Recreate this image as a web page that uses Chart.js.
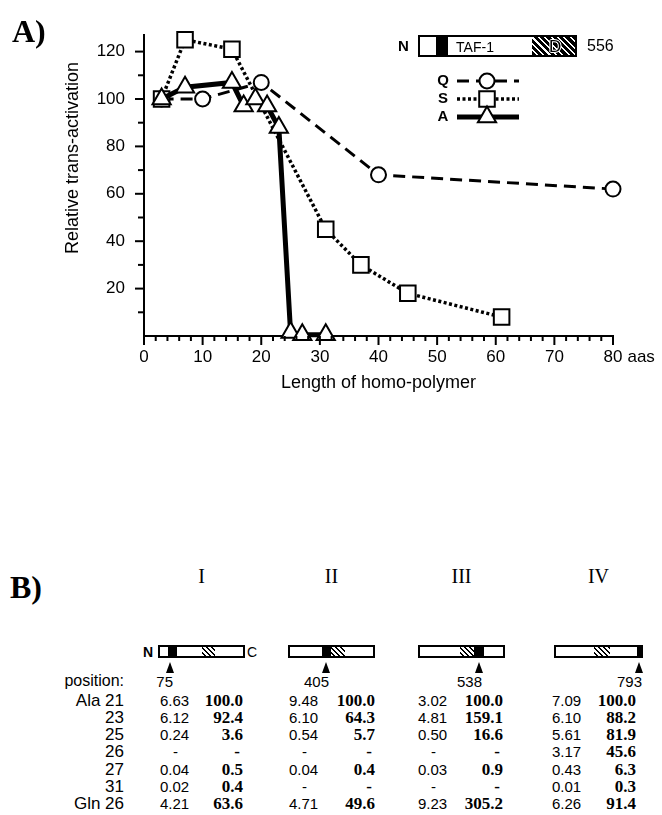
<!DOCTYPE html>
<html>
<head>
<meta charset="utf-8">
<script src="https://cdn.jsdelivr.net/npm/chart.js@4.4.1/dist/chart.umd.min.js"></script>
<style>
  body { margin: 0; background: #fff; }
  #page { position: relative; width: 662px; height: 815px; overflow: hidden; font-family: 'Liberation Sans', Arial, sans-serif; color: #000; }
  #chartA { position: absolute; left: 0; top: 0; }
  .t { position: absolute; white-space: nowrap; line-height: 1; }
  .serif { font-family: 'Liberation Serif', 'Times New Roman', serif; }
  .box { position: absolute; border: 2px solid #000; background: #fff; box-sizing: border-box; overflow: hidden; }
  .seg { position: absolute; top: 0; bottom: 0; }
  .hatchW { background: repeating-linear-gradient(45deg, #fff 0 2px, #000 2px 3.5px); }
  .hatchB { background: repeating-linear-gradient(45deg, #000 0 3px, #fff 3px 4.5px); }
  .blk { background: #000; }
  .arrow { position: absolute; width: 0; height: 0; border-left: 4px solid transparent; border-right: 4px solid transparent; border-bottom: 11px solid #000; }
</style>
</head>
<body>
<div id="page">
  <canvas id="chartA" width="662" height="400"></canvas>
</div>
<script>
// panel A: relative trans-activation vs homo-polymer length
const xTicks = [0, 10, 20, 30, 40, 50, 60, 70, 80];
const yTicks = [20, 40, 60, 80, 100, 120];

const glnLength = [3, 10, 20, 40, 80];
const glnValue = [100, 100, 107, 68, 62];
const serLength = [3, 7, 15, 31, 37, 45, 61];
const serValue = [100, 125, 121, 45, 30, 18, 8];
const alaLength = [3, 7, 15, 17, 19, 21, 23, 25, 27, 31];
const alaValue = [100, 105, 107, 97, 100, 97, 88, 1.5, 0.5, 0.5];

// panel B: table
const constructNames = ['I', 'II', 'III', 'IV'];
const insertPositions = [75, 405, 538, 793];
const rowLabels = ['Ala 21', '23', '25', '26', '27', '31', 'Gln 26'];
const foldI = [6.63, 6.12, 0.24, null, 0.04, 0.02, 4.21];
const pctI = [100.0, 92.4, 3.6, null, 0.5, 0.4, 63.6];
const foldII = [9.48, 6.10, 0.54, null, 0.04, null, 4.71];
const pctII = [100.0, 64.3, 5.7, null, 0.4, null, 49.6];
const foldIII = [3.02, 4.81, 0.50, null, 0.03, null, 9.23];
const pctIII = [100.0, 159.1, 16.6, null, 0.9, null, 305.2];
const foldIV = [7.09, 6.10, 5.61, 3.17, 0.43, 0.01, 6.26];
const pctIV = [100.0, 88.2, 81.9, 45.6, 6.3, 0.3, 91.4];

const SANS = "'Liberation Sans', Arial, sans-serif";

function pts(xs, ys) {
    return xs.map((x, i) => ({ x: x, y: ys[i] }));
}

const datasets = [
    {
        label: 'Q', data: pts(glnLength, glnValue), order: 2,
        borderColor: '#000', borderWidth: 3, borderDash: [12, 7],
        pointStyle: 'circle', pointRadius: 7.5
    },
    {
        label: 'S', data: pts(serLength, serValue), order: 1,
        borderColor: '#000', borderWidth: 3.5, borderDash: [3, 2.5],
        pointStyle: 'rect', pointRadius: 11
    },
    {
        label: 'A', data: pts(alaLength, alaValue), order: 0,
        borderColor: '#000', borderWidth: 5, borderDash: [],
        pointStyle: 'triangle', pointRadius: 10.5
    }
];
datasets.forEach(d => {
    d.pointBackgroundColor = '#fff';
    d.pointBorderColor = '#000';
    d.pointBorderWidth = 2;
    d.clip = false;
    d.tension = 0;
    d.fill = false;
});

// tick marks, y title, "aas", and the Q/S/A key
const extras = {
    id: 'extras',
    afterDraw(chart) {
        const { ctx, scales: { x, y } } = chart;
        ctx.save();
        ctx.strokeStyle = '#000';
        ctx.lineWidth = 2;
        ctx.setLineDash([]);
        for (let v = 0; v <= 80; v += 2) {
            const px = x.getPixelForValue(v);
            const len = v % 10 === 0 ? 9 : 5;
            ctx.beginPath();
            ctx.moveTo(px, y.bottom);
            ctx.lineTo(px, y.bottom + len);
            ctx.stroke();
        }
        for (let v = 10; v <= 120; v += 10) {
            const py = y.getPixelForValue(v);
            const len = v % 20 === 0 ? 9 : 6;
            ctx.beginPath();
            ctx.moveTo(x.left - len, py);
            ctx.lineTo(x.left, py);
            ctx.stroke();
        }

        ctx.fillStyle = '#000';
        ctx.font = '17px ' + SANS;
        ctx.textBaseline = 'middle';
        const w80 = ctx.measureText('80').width;
        ctx.textAlign = 'left';
        ctx.fillText('aas', x.getPixelForValue(80) + w80 / 2 + 5, 357);

        ctx.save();
        ctx.translate(73, 158);
        ctx.rotate(-Math.PI / 2);
        ctx.textAlign = 'center';
        ctx.font = '18px ' + SANS;
        ctx.fillText('Relative trans-activation', 0, 0);
        ctx.restore();

        // key
        const rows = [81, 99, 117];
        chart.data.datasets.forEach((d, i) => {
            const yy = rows[i];
            ctx.font = 'bold 15px ' + SANS;
            ctx.textAlign = 'center';
            ctx.fillText(d.label, 443, yy);
            ctx.lineWidth = d.borderWidth;
            ctx.setLineDash(d.borderDash);
            ctx.beginPath();
            ctx.moveTo(457, yy);
            ctx.lineTo(519, yy);
            ctx.stroke();
            ctx.setLineDash([]);
            ctx.lineWidth = 2;
            ctx.fillStyle = '#fff';
            Chart.helpers.drawPoint(ctx, { pointStyle: d.pointStyle, radius: d.pointRadius, borderWidth: 2, rotation: 0 }, 487, yy);
            ctx.fillStyle = '#000';
        });
        ctx.restore();
    }
};

new Chart(document.getElementById('chartA').getContext('2d'), {
    type: 'line',
    data: { datasets: datasets },
    options: {
        responsive: false,
        animation: false,
        layout: { padding: { left: 0, right: 49, top: 35, bottom: 0 } },
        plugins: { legend: { display: false }, tooltip: { enabled: false } },
        scales: {
            x: {
                type: 'linear', min: 0, max: 80,
                afterFit: s => { s.height = 64; },
                afterBuildTicks: s => { s.ticks = xTicks.map(v => ({ value: v })); },
                grid: { display: false, drawTicks: false, tickLength: 0 },
                border: { display: true, color: '#000', width: 2 },
                ticks: { color: '#000', font: { family: SANS, size: 17 }, padding: 11, maxRotation: 0, autoSkip: false },
                title: { display: true, text: 'Length of homo-polymer', color: '#000', font: { family: SANS, size: 18 }, padding: { top: 0, bottom: 6 } }
            },
            y: {
                type: 'linear', min: 0, max: 127,
                afterFit: s => { s.width = 144; },
                afterBuildTicks: s => { s.ticks = yTicks.map(v => ({ value: v })); },
                grid: { display: false, drawTicks: false, tickLength: 0 },
                border: { display: true, color: '#000', width: 2 },
                ticks: { color: '#000', font: { family: SANS, size: 17 }, padding: 19 }
            }
        }
    },
    plugins: [extras]
});

// ---------- HTML parts ----------
const page = document.getElementById('page');
function txt(s, css) {
    const d = document.createElement('div');
    d.className = 't' + (css.cls ? ' ' + css.cls : '');
    d.textContent = s;
    delete css.cls;
    Object.assign(d.style, css);
    page.appendChild(d);
    return d;
}
function box(left, top, w, h, segs) {
    const b = document.createElement('div');
    b.className = 'box';
    Object.assign(b.style, { left: left + 'px', top: top + 'px', width: w + 'px', height: h + 'px' });
    segs.forEach(s => {
        const e = document.createElement('div');
        e.className = 'seg ' + s.cls;
        e.style.left = (s.from * 100) + '%';
        e.style.width = ((s.to - s.from) * 100) + '%';
        b.appendChild(e);
    });
    page.appendChild(b);
    return b;
}

txt('A)', { cls: 'serif', left: '12px', top: '15px', fontSize: '32px', fontWeight: 'bold' });
txt('B)', { cls: 'serif', left: '10px', top: '571px', fontSize: '32px', fontWeight: 'bold' });

// TAF-1 schematic
txt('N', { left: '398px', top: '38px', fontSize: '15px', fontWeight: 'bold' });
const taf = box(418, 35, 159, 22, [
    { cls: 'blk', from: 0.105, to: 0.18 },
    { cls: 'hatchB', from: 0.72, to: 1.0 }
]);
const tafText = document.createElement('div');
tafText.className = 't';
Object.assign(tafText.style, { left: '35px', width: '40px', top: '3px', fontSize: '14px', textAlign: 'center' });
tafText.textContent = 'TAF-1';
taf.appendChild(tafText);
const dText = document.createElement('div');
dText.className = 't';
Object.assign(dText.style, { left: '129px', top: '1px', fontSize: '17px', color: '#000', textShadow: '1px 0 #fff, -1px 0 #fff, 0 1px #fff, 0 -1px #fff' });
dText.textContent = 'D';
taf.appendChild(dText);
txt('556', { left: '587px', top: '38px', fontSize: '16px' });

// panel B layout
const panels = [
    { bar: 158, w: 87, arrow: 170, raw: 160, pct: 243, black: [0.1, 0.21], hatch: [0.5, 0.66] },
    { bar: 288, w: 87, arrow: 326, raw: 289, pct: 375, black: [0.38, 0.49], hatch: [0.49, 0.66] },
    { bar: 418, w: 87, arrow: 479, raw: 418, pct: 503, black: [0.65, 0.77], hatch: [0.48, 0.65] },
    { bar: 554, w: 89, arrow: 639, raw: 552, pct: 636, black: [0.95, 1.0], hatch: [0.45, 0.63] }
];
const folds = [foldI, foldII, foldIII, foldIV];
const pcts = [pctI, pctII, pctIII, pctIV];
const rowY0 = 700, rowStep = 17.3;

txt('N', { left: '143px', top: '645px', fontSize: '14px', fontWeight: 'bold' });
txt('C', { left: '247px', top: '645px', fontSize: '14px' });
txt('position:', { right: (662 - 124) + 'px', top: '673px', fontSize: '16px' });

panels.forEach((p, k) => {
    txt(constructNames[k], { cls: 'serif', left: (p.bar + p.w / 2) + 'px', top: '566px', fontSize: '20px', transform: 'translateX(-50%)' });
    box(p.bar, 645, p.w, 13, [
        { cls: 'blk', from: p.black[0], to: p.black[1] },
        { cls: 'hatchW', from: p.hatch[0], to: p.hatch[1] }
    ]);
    const a = document.createElement('div');
    a.className = 'arrow';
    a.style.left = (p.arrow - 4) + 'px';
    a.style.top = '662px';
    page.appendChild(a);
    txt(String(insertPositions[k]), { right: (662 - p.arrow - 3) + 'px', top: '674px', fontSize: '15px' });

    rowLabels.forEach((lab, i) => {
        const top = rowY0 + i * rowStep;
        const f = folds[k][i];
        const q = pcts[k][i];
        if (f === null) {
            txt('-', { left: (p.raw + 13) + 'px', top: (top - 8) + 'px', fontSize: '15px' });
        } else {
            txt(f.toFixed(2), { left: p.raw + 'px', top: (top - 7.5) + 'px', fontSize: '15px' });
        }
        txt(q === null ? '-' : q.toFixed(1), {
            cls: 'serif', right: (662 - p.pct + (q === null ? 3 : 0)) + 'px', top: (top - 8.5) + 'px',
            fontSize: '17px', fontWeight: 'bold'
        });
    });
});
rowLabels.forEach((lab, i) => {
    txt(lab, { right: (662 - 124) + 'px', top: (rowY0 + i * rowStep - 8.5) + 'px', fontSize: '17px' });
});
</script>
</body>
</html>
